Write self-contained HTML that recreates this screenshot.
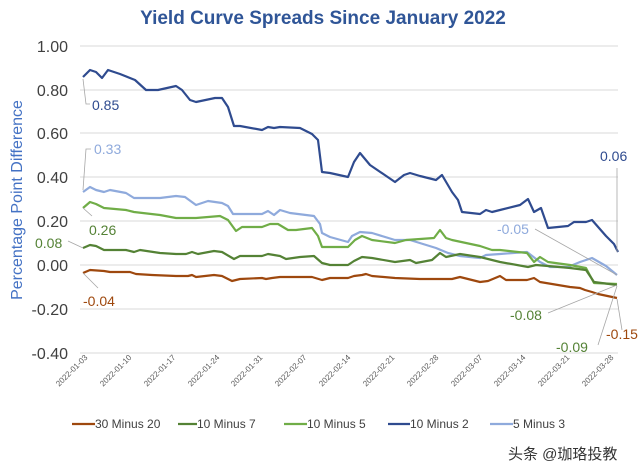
<!DOCTYPE html>
<html><head><meta charset="utf-8"><style>
body{margin:0;background:#fff;}
svg{display:block;font-family:"Liberation Sans",sans-serif;}
</style></head><body>
<svg width="640" height="464" viewBox="0 0 640 464" xmlns="http://www.w3.org/2000/svg">
<rect width="640" height="464" fill="#fff"/>
<text x="323" y="24" text-anchor="middle" font-size="19" font-weight="bold" fill="#2F5597">Yield Curve Spreads Since January 2022</text>
<g stroke="#d9d9d9" stroke-width="1">
<line x1="80" x2="618" y1="46" y2="46"/><line x1="80" x2="618" y1="90" y2="90"/>
<line x1="80" x2="618" y1="133" y2="133"/><line x1="80" x2="618" y1="177" y2="177"/>
<line x1="80" x2="618" y1="221" y2="221"/><line x1="80" x2="618" y1="265" y2="265"/>
<line x1="80" x2="618" y1="309" y2="309"/><line x1="80" x2="618" y1="353" y2="353"/>
</g>
<g font-size="16" fill="#404040" text-anchor="end">
<text x="68" y="52">1.00</text><text x="68" y="96">0.80</text><text x="68" y="139">0.60</text>
<text x="68" y="183">0.40</text><text x="68" y="227">0.20</text><text x="68" y="271">0.00</text>
<text x="68" y="315">-0.20</text><text x="68" y="359">-0.40</text>
</g>
<text transform="translate(22,200) rotate(-90)" text-anchor="middle" font-size="16" fill="#4472C4">Percentage Point Difference</text>
<g font-size="8" fill="#595959" text-anchor="end">
<text transform="translate(88,358) rotate(-45)">2022-01-03</text>
<text transform="translate(132,358) rotate(-45)">2022-01-10</text>
<text transform="translate(176,358) rotate(-45)">2022-01-17</text>
<text transform="translate(220,358) rotate(-45)">2022-01-24</text>
<text transform="translate(263,358) rotate(-45)">2022-01-31</text>
<text transform="translate(307,358) rotate(-45)">2022-02-07</text>
<text transform="translate(351,358) rotate(-45)">2022-02-14</text>
<text transform="translate(395,358) rotate(-45)">2022-02-21</text>
<text transform="translate(439,358) rotate(-45)">2022-02-28</text>
<text transform="translate(483,358) rotate(-45)">2022-03-07</text>
<text transform="translate(526,358) rotate(-45)">2022-03-14</text>
<text transform="translate(570,358) rotate(-45)">2022-03-21</text>
<text transform="translate(614,358) rotate(-45)">2022-03-28</text>
</g>
<g fill="none" stroke-width="2.2" stroke-linejoin="round">
<polyline stroke="#8FAADC" points="83,192 90,187 96,190 104,192 110,190 126,193 134,198 160,198 176,196 185,197 196,205 208,201 222,203 228,206 233,214 262,214 268,211 274,215 280,210 290,213 314,216 320,224 322,233 330,237 348,242 352,236 360,232 372,233 395,240 410,240 436,248 448,253 460,256 480,258 486,255 500,254 527,252 540,262 550,267 568,267 580,262 586,260 592,258 606,266 617,275"/>
<polyline stroke="#70AD47" points="83,208 90,202 96,204 104,208 126,210 134,212 160,215 176,218 196,218 220,216 228,220 236,231 242,227 262,227 270,224 278,224 288,230 296,230 312,228 318,236 322,247 330,247 348,247 355,240 362,236 372,240 395,243 406,240 434,238 440,230 446,238 452,240 480,246 492,250 500,250 527,253 534,262 540,257 548,262 570,265 586,268 594,283 617,284"/>
<polyline stroke="#548235" points="83,248 90,245 96,246 104,250 126,250 134,252 140,250 160,253 176,254 186,254 192,252 198,254 214,251 222,252 234,259 240,256 262,256 268,254 280,256 286,259 300,257 314,256 322,263 330,265 348,265 354,261 362,257 372,258 395,262 410,260 416,263 432,260 440,253 446,257 460,254 480,257 500,262 528,267 536,265 548,266 570,268 586,270 594,282 617,285"/>
<polyline stroke="#2F4B8F" points="83,77 90,70 96,72 102,78 108,70 120,74 135,80 146,90 158,90 176,86 182,90 190,100 196,102 215,98 222,98 228,107 234,126 240,126 262,130 268,127 274,128 280,127 300,128 312,134 318,140 322,172 330,173 348,177 354,162 360,153 370,165 395,182 404,175 410,173 420,176 436,180 442,175 452,192 458,200 462,212 480,214 486,210 492,212 500,210 520,205 528,199 534,212 541,208 548,228 568,226 574,222 586,222 592,220 606,236 614,244 618,252"/>
<polyline stroke="#9E480E" points="83,273 90,270 104,271 110,272 130,272 136,274 152,275 176,276 188,276 192,275 196,277 214,275 222,276 232,281 240,279 262,278 266,279 272,278 280,277 312,277 322,280 330,278 348,278 354,276 362,275 366,274 372,276 395,278 420,279 452,279 460,277 480,282 488,281 500,276 506,280 527,280 534,278 540,282 570,287 580,288 585,290 592,292 598,294 617,298"/>
</g>
<g stroke="#a6a6a6" stroke-width="0.8" fill="none">
<polyline points="83,79 86,104 90,104"/>
<polyline points="83,190 86,149 91,149"/>
<line x1="83" y1="208" x2="92" y2="216"/>
<line x1="68" y1="241" x2="83" y2="248"/>
<line x1="83" y1="273" x2="98" y2="288"/>
<line x1="617" y1="168" x2="617" y2="252"/>
<line x1="535" y1="229" x2="617" y2="275"/>
<line x1="548" y1="313" x2="617" y2="285"/>
<line x1="598" y1="345" x2="617" y2="286"/>
<line x1="622" y1="330" x2="617" y2="299"/>
</g>
<g font-size="14">
<text x="92" y="110" fill="#2F4B8F">0.85</text>
<text x="94" y="154" fill="#8FAADC">0.33</text>
<text x="89" y="235" fill="#548235">0.26</text>
<text x="35" y="248" fill="#548235">0.08</text>
<text x="83" y="306" fill="#9E480E">-0.04</text>
<text x="600" y="161" fill="#2F4B8F">0.06</text>
<text x="497" y="234" fill="#8FAADC">-0.05</text>
<text x="510" y="320" fill="#548235">-0.08</text>
<text x="556" y="352" fill="#548235">-0.09</text>
<text x="606" y="339" fill="#9E480E">-0.15</text>
</g>
<g font-size="12" fill="#404040">
<line x1="72" x2="95" y1="424" y2="424" stroke="#9E480E" stroke-width="2.2"/><text x="95" y="428">30 Minus 20</text>
<line x1="178" x2="197" y1="424" y2="424" stroke="#548235" stroke-width="2.2"/><text x="197" y="428">10 Minus 7</text>
<line x1="284" x2="307" y1="424" y2="424" stroke="#70AD47" stroke-width="2.2"/><text x="307" y="428">10 Minus 5</text>
<line x1="388" x2="410" y1="424" y2="424" stroke="#2F4B8F" stroke-width="2.2"/><text x="410" y="428">10 Minus 2</text>
<line x1="490" x2="513" y1="424" y2="424" stroke="#8FAADC" stroke-width="2.2"/><text x="513" y="428">5 Minus 3</text>
</g>
<text x="508" y="459" font-size="15" fill="#333" font-family="'Liberation Sans','Noto Sans CJK SC',sans-serif">头条 @珈珞投教</text>
</svg>
</body></html>
